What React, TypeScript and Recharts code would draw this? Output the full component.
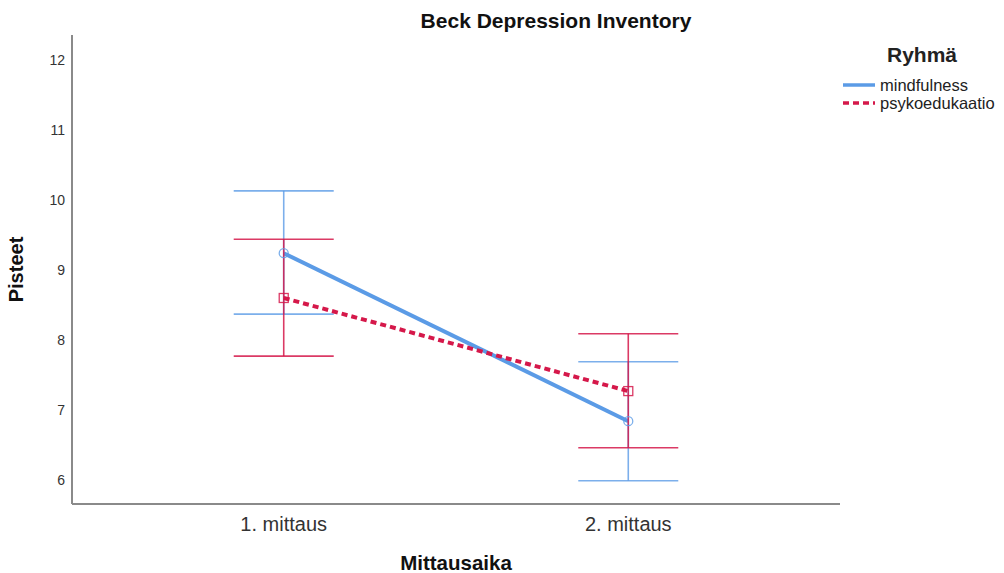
import { LineChart, Line, XAxis, YAxis, ErrorBar, Label } from 'recharts';

const times = ['1. mittaus', '2. mittaus'];
const mindfulness = [9.24, 6.84];
const mindfulnessLow = [8.37, 5.99];
const mindfulnessHigh = [10.13, 7.69];
const psykoedukaatio = [8.6, 7.27];
const psykoLow = [7.77, 6.46];
const psykoHigh = [9.44, 8.09];
const yTicks = [6, 7, 8, 9, 10, 11, 12];

const BLUE = '#5b9be6';
const RED = '#d5184a';
const FONT = 'Arial, "Liberation Sans", sans-serif';

const data = times.map((t, i) => ({
    x: i + 1,
    mindfulness: mindfulness[i],
    mErr: [mindfulness[i] - mindfulnessLow[i], mindfulnessHigh[i] - mindfulness[i]],
    psykoedukaatio: psykoedukaatio[i],
    pErr: [psykoedukaatio[i] - psykoLow[i], psykoHigh[i] - psykoedukaatio[i]],
}));

const CircleDot = (props: any) => {
    const { cx, cy, index } = props;
    return <circle key={index} cx={cx} cy={cy} r={4.5} fill="none" stroke={BLUE} strokeWidth={1.3} opacity={0.8} />;
};

const SquareDot = (props: any) => {
    const { cx, cy, index } = props;
    return <rect key={index} x={cx - 4.5} y={cy - 4.5} width={9} height={9} fill="none" stroke={RED} strokeWidth={1.3} opacity={0.85} />;
};

// legend drawn as an overlay so it doesn't squeeze the plot
function LegendBox() {
    const row = { display: 'flex', alignItems: 'center', height: 18, fontSize: 16.5, lineHeight: '18px' } as const;
    return (
        <div style={{ position: 'absolute', left: 842, top: 42, fontFamily: FONT, color: '#222' }}>
            <div style={{ fontWeight: 'bold', fontSize: 21, lineHeight: '26px', marginLeft: 45, marginBottom: 8 }}>Ryhmä</div>
            <div style={row}>
                <svg width={38} height={10}><line x1={1} y1={5} x2={33} y2={5} stroke={BLUE} strokeWidth={3.5} /></svg>
                <span>mindfulness</span>
            </div>
            <div style={row}>
                <svg width={38} height={10}><line x1={1} y1={5} x2={33} y2={5} stroke={RED} strokeWidth={3.5} strokeDasharray="6 4" /></svg>
                <span>psykoedukaatio</span>
            </div>
        </div>
    );
}

export default function App() {
    return (
        <div style={{ position: 'absolute', left: 0, top: 0, width: 1004, height: 573, background: '#fff' }}>
            <div style={{ position: 'absolute', left: 0, width: 1112, top: 9, textAlign: 'center', fontFamily: FONT, fontWeight: 'bold', fontSize: 21, lineHeight: '24px', color: '#111' }}>
                Beck Depression Inventory
            </div>
            <LegendBox />
            <LineChart width={1004} height={573} data={data} margin={{ top: 35, right: 164, bottom: 0, left: 0 }}>
                <XAxis
                    dataKey="x"
                    type="number"
                    domain={[0.3855, 2.6145]}
                    ticks={[1, 2]}
                    tickFormatter={(v) => times[v - 1]}
                    height={69}
                    tickLine={false}
                    axisLine={{ stroke: '#8a8a8a', strokeWidth: 2 }}
                    tick={{ fontSize: 20, fill: '#333', fontFamily: FONT }}
                    tickMargin={7}
                >
                    <Label value="Mittausaika" position="insideBottom" offset={3} style={{ fontSize: 20.5, fontWeight: 'bold', fill: '#111', fontFamily: FONT }} />
                </XAxis>
                <YAxis
                    type="number"
                    domain={[5.657, 12.357]}
                    ticks={yTicks}
                    width={72}
                    tickLine={false}
                    axisLine={{ stroke: '#8a8a8a', strokeWidth: 2 }}
                    tick={{ fontSize: 14, fill: '#333', fontFamily: FONT }}
                    tickMargin={1}
                >
                    <Label value="Pisteet" angle={-90} position="insideLeft" offset={16} style={{ fontSize: 20, fontWeight: 'bold', fill: '#111', fontFamily: FONT, textAnchor: 'middle' }} />
                </YAxis>
                <Line dataKey="mindfulness" stroke={BLUE} strokeWidth={4} dot={<CircleDot />} activeDot={false} isAnimationActive={false}>
                    <ErrorBar dataKey="mErr" direction="y" width={50} stroke={BLUE} strokeWidth={1.6} strokeOpacity={0.8} />
                </Line>
                <Line dataKey="psykoedukaatio" stroke={RED} strokeWidth={4} strokeDasharray="6 4" dot={<SquareDot />} activeDot={false} isAnimationActive={false}>
                    <ErrorBar dataKey="pErr" direction="y" width={50} stroke={RED} strokeWidth={1.6} strokeOpacity={0.85} />
                </Line>
            </LineChart>
        </div>
    );
}
